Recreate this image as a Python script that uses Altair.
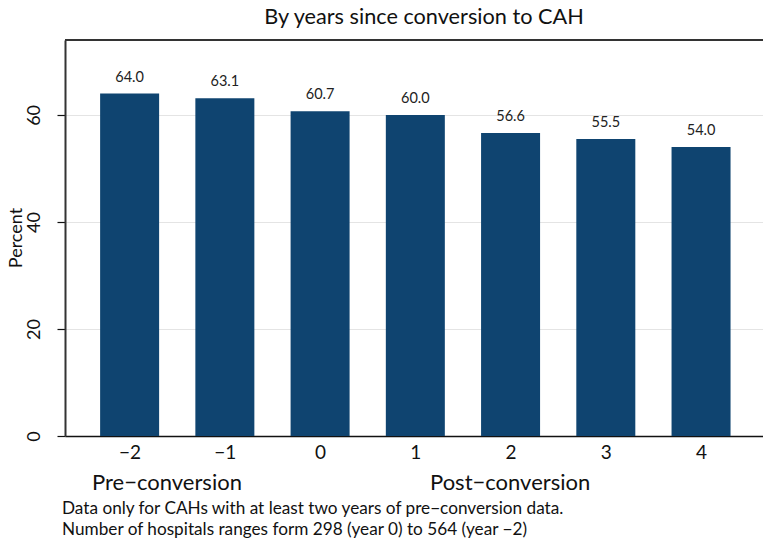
import altair as alt
import pandas as pd

# ---- data ----
years = [-2, -1, 0, 1, 2, 3, 4]
percent = [64.0, 63.1, 60.7, 60.0, 56.6, 55.5, 54.0]

title_text = ["By years since conversion to CAH"]
y_title = ["Percent"]
group_labels = ["Pre\u2212conversion", "Post\u2212conversion"]
notes = [
    "Data only for CAHs with at least two years of pre\u2212conversion data.",
    "Number of hospitals ranges form 298 (year 0) to 564 (year \u22122)",
]

FONT = "Lato"
W, H = 698, 396
BAR = "#0f4470"

df = pd.DataFrame({"year": years, "pct": percent})

x = alt.X(
    "year:Q",
    scale=alt.Scale(domain=[-2.626, 4.598], nice=False, zero=False),
    axis=alt.Axis(
        values=years,
        format="d",
        title=None,
        grid=False,
        ticks=False,
        labelPadding=7,
        labelFontSize=19,
        labelFont=FONT,
        labelColor="#111111",
        domainColor="#111111",
        domainWidth=1.5,
        labelFlush=False,
    ),
)
y = alt.Y(
    "pct:Q",
    scale=alt.Scale(domain=[0, 74], nice=False),
    axis=alt.Axis(
        values=[0, 20, 40, 60],
        title=None,
        grid=True,
        gridColor="#e4e4e4",
        gridWidth=1,
        tickSize=8,
        tickColor="#111111",
        tickWidth=1.2,
        labelAngle=270,
        labelAlign="center",
        labelBaseline="bottom",
        labelPadding=14,
        labelFontSize=18,
        labelFont=FONT,
        labelColor="#111111",
        domainColor="#333333",
        domainWidth=2,
    ),
)

bars = alt.Chart(df).mark_bar(size=59, color=BAR).encode(x=x, y=y)
labels = (
    alt.Chart(df)
    .mark_text(baseline="alphabetic", dy=-12, fontSize=14.5, font=FONT, color="#222222")
    .encode(x="year:Q", y="pct:Q", text=alt.Text("pct:Q", format=".1f"))
)

top_line = (
    alt.Chart(pd.DataFrame({"a": [0]}))
    .mark_rule(color="#333333", strokeWidth=2)
    .encode(x=alt.value(0), x2=alt.value(W + 5), y=alt.value(0))
)


def txt(values, xpos, ypos, size, align="left", angle=0):
    return (
        alt.Chart(pd.DataFrame({"t": values}))
        .mark_text(
            align=align, baseline="middle", fontSize=size, font=FONT,
            color="#111111", angle=angle,
        )
        .encode(text="t:N", x=alt.value(xpos), y=alt.value(ypos))
    )


title = txt(title_text, 359, -23, 21.7, align="center")
ytitle = txt(y_title, -48, 198, 18, align="center", angle=270)
pre = txt(group_labels[:1], 27, 443, 22)
post = txt(group_labels[1:], 365, 443, 22)
note1 = txt(notes[:1], -3, 469, 17.2)
note2 = txt(notes[1:], -3, 490, 17.2)

chart = (
    alt.layer(bars, labels, top_line, title, ytitle, pre, post, note1, note2)
    .properties(
        width=W,
        height=H,
        autosize=alt.AutoSizeParams(type="none"),
        padding={"left": 65, "top": 40, "right": 0, "bottom": 105},
        background="white",
    )
    .configure_view(stroke=None)
)

chart.save("out.html", embed_options={"renderer": "svg", "actions": False})
